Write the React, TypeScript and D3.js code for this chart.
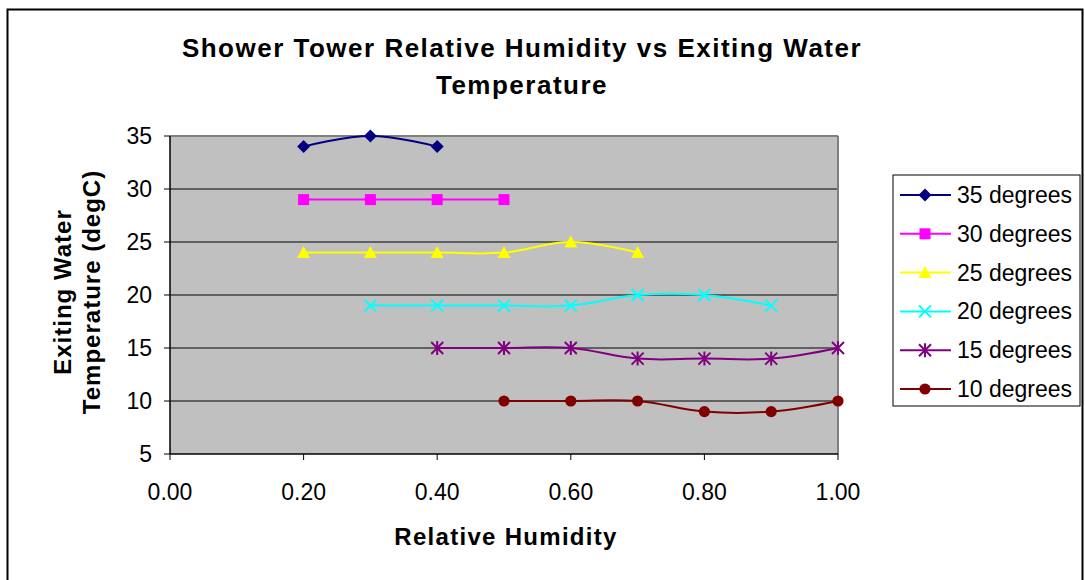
import React from "react";
import * as d3 from "d3";

const xTicks = [0, 0.2, 0.4, 0.6, 0.8, 1.0];
const yTicks = [5, 10, 15, 20, 25, 30, 35];

const rh35 = [0.2, 0.3, 0.4];
const temp35 = [34, 35, 34];
const rh30 = [0.2, 0.3, 0.4, 0.5];
const temp30 = [29, 29, 29, 29];
const rh25 = [0.2, 0.3, 0.4, 0.5, 0.6, 0.7];
const temp25 = [24, 24, 24, 24, 25, 24];
const rh20 = [0.3, 0.4, 0.5, 0.6, 0.7, 0.8, 0.9];
const temp20 = [19, 19, 19, 19, 20, 20, 19];
const rh15 = [0.4, 0.5, 0.6, 0.7, 0.8, 0.9, 1.0];
const temp15 = [15, 15, 15, 14, 14, 14, 15];
const rh10 = [0.5, 0.6, 0.7, 0.8, 0.9, 1.0];
const temp10 = [10, 10, 10, 9, 9, 10];

const seriesNames = ["35 degrees", "30 degrees", "25 degrees", "20 degrees", "15 degrees", "10 degrees"];
const seriesColors = ["#000080", "#FF00FF", "#FFFF00", "#00FFFF", "#800080", "#800000"];
const seriesMarkers = ["diamond", "square", "triangle", "x", "star", "circle"];
const seriesX = [rh35, rh30, rh25, rh20, rh15, rh10];
const seriesY = [temp35, temp30, temp25, temp20, temp15, temp10];

const FONT = "'Liberation Sans', Arial, Helvetica, sans-serif";

function Marker({ type, x, y, color }: { type: string; x: number; y: number; color: string }) {
  const s = 6;
  switch (type) {
    case "diamond":
      return <path d={`M${x},${y - 6.5}L${x + 6.5},${y}L${x},${y + 6.5}L${x - 6.5},${y}Z`} fill={color} />;
    case "square":
      return <rect x={x - 5.5} y={y - 5.5} width={11} height={11} fill={color} />;
    case "triangle":
      return <path d={`M${x},${y - 6.5}L${x + 6.5},${y + 5.5}L${x - 6.5},${y + 5.5}Z`} fill={color} />;
    case "x":
      return (
        <path d={`M${x - s},${y - s}L${x + s},${y + s}M${x - s},${y + s}L${x + s},${y - s}`} stroke={color} strokeWidth={2} fill="none" />
      );
    case "star":
      return (
        <path
          d={`M${x - s},${y - s}L${x + s},${y + s}M${x - s},${y + s}L${x + s},${y - s}M${x},${y - s - 1}L${x},${y + s + 1}`}
          stroke={color}
          strokeWidth={2}
          fill="none"
        />
      );
    default:
      return <circle cx={x} cy={y} r={5.6} fill={color} />;
  }
}

export default function App() {
  const W = 1085;
  const H = 580;
  const left = 170, right = 838, top = 136, bottom = 454;
  const x = d3.scaleLinear().domain([0, 1]).range([left, right]);
  const y = d3.scaleLinear().domain([5, 35]).range([bottom, top]);

  const line = d3
    .line<[number, number]>()
    .x((d) => x(d[0]))
    .y((d) => y(d[1]))
    .curve(d3.curveCardinal.tension(-0.15));

  const legendX = 893, legendY = 175, legendW = 187, legendH = 231;
  const legendRows = seriesNames.map((_, i) => 195 + i * 38.8);

  return (
    <svg
      width={W}
      height={H}
      style={{ position: "absolute", left: 0, top: 0, background: "#fff" }}
      fontFamily={FONT}
    >
      <rect x={0} y={0} width={W} height={H} fill="#fff" />
      <rect x={7.5} y={9.5} width={1075} height={H + 20} fill="none" stroke="#000" strokeWidth={2} />

      {/* Title */}
      <text x={522} y={57} textAnchor="middle" fontSize={26} fontWeight="bold" letterSpacing={1.5}>
        Shower Tower Relative Humidity vs Exiting Water
      </text>
      <text x={522} y={94} textAnchor="middle" fontSize={26} fontWeight="bold" letterSpacing={1.5}>
        Temperature
      </text>

      {/* Plot area */}
      <rect x={left} y={top} width={right - left} height={bottom - top} fill="#C0C0C0" />
      {yTicks.slice(1, -1).map((t) => (
        <line key={t} x1={left} x2={right} y1={y(t)} y2={y(t)} stroke="#000" strokeWidth={1} />
      ))}
      <line x1={left} x2={right} y1={top} y2={top} stroke="#808080" strokeWidth={2} />
      <line x1={right} x2={right} y1={top} y2={bottom} stroke="#808080" strokeWidth={2} />
      <line x1={left} x2={left} y1={top} y2={bottom} stroke="#000" strokeWidth={1.5} />
      <line x1={left} x2={right} y1={bottom} y2={bottom} stroke="#000" strokeWidth={1.5} />

      {/* Y ticks */}
      {yTicks.map((t) => (
        <g key={t}>
          <line x1={left - 6} x2={left} y1={y(t)} y2={y(t)} stroke="#000" strokeWidth={1} />
          <text x={152} y={y(t) + 8} textAnchor="end" fontSize={23}>
            {t}
          </text>
        </g>
      ))}
      {/* X ticks */}
      {xTicks.map((t) => (
        <g key={t}>
          <line x1={x(t)} x2={x(t)} y1={bottom} y2={bottom + 6} stroke="#000" strokeWidth={1} />
          <text x={x(t)} y={500} textAnchor="middle" fontSize={23}>
            {t.toFixed(2)}
          </text>
        </g>
      ))}

      {/* Axis titles */}
      <text x={506} y={545} textAnchor="middle" fontSize={24} fontWeight="bold" letterSpacing={1.3}>
        Relative Humidity
      </text>
      <text
        transform={`translate(71,292) rotate(-90)`}
        textAnchor="middle"
        fontSize={24}
        fontWeight="bold"
        letterSpacing={1}
      >
        Exiting Water
      </text>
      <text
        transform={`translate(100,292) rotate(-90)`}
        textAnchor="middle"
        fontSize={24}
        fontWeight="bold"
        letterSpacing={1}
      >
        Temperature (degC)
      </text>

      {/* Series */}
      {seriesNames.map((name, i) => {
        const pts: [number, number][] = seriesX[i].map((v, j) => [v, seriesY[i][j]]);
        return (
          <g key={name}>
            <path d={line(pts) || ""} fill="none" stroke={seriesColors[i]} strokeWidth={2} />
            {pts.map((p, j) => (
              <Marker key={j} type={seriesMarkers[i]} x={x(p[0])} y={y(p[1])} color={seriesColors[i]} />
            ))}
          </g>
        );
      })}

      {/* Legend */}
      <rect x={legendX} y={legendY} width={legendW} height={legendH} fill="#fff" stroke="#000" strokeWidth={1} />
      {seriesNames.map((name, i) => (
        <g key={name}>
          <line x1={900} x2={951} y1={legendRows[i]} y2={legendRows[i]} stroke={seriesColors[i]} strokeWidth={2} />
          <Marker type={seriesMarkers[i]} x={925} y={legendRows[i]} color={seriesColors[i]} />
          <text x={957} y={legendRows[i] + 8} fontSize={23}>
            {name}
          </text>
        </g>
      ))}
    </svg>
  );
}
